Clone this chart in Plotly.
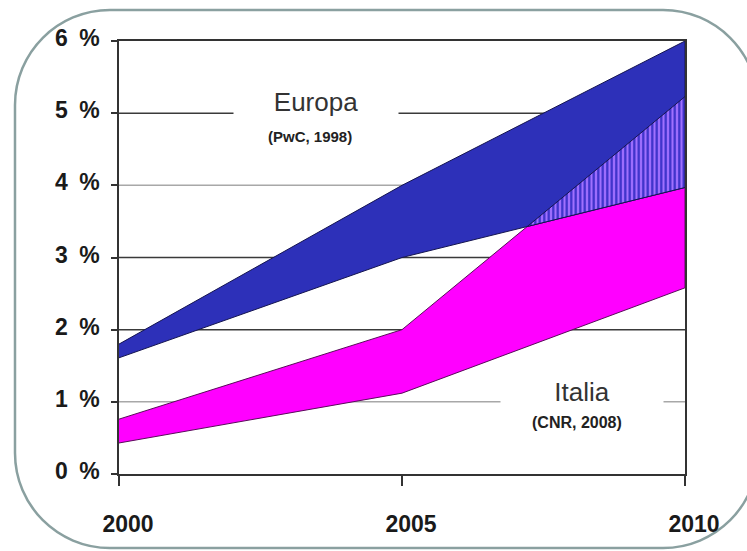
import plotly.graph_objects as go

# ---------------- data ----------------
years = [2000, 2005, 2010]
europa_high = [1.80, 4.00, 6.00]
europa_low = [1.61, 3.00, 3.97]
italia_high = [0.76, 2.00, 5.23]
italia_low = [0.43, 1.12, 2.58]

y_ticks = [0, 1, 2, 3, 4, 5, 6]
y_ticktext = ["0\u2002%", "1\u2002%", "2\u2002%", "3\u2002%", "4\u2002%", "5\u2002%", "6\u2002%"]
x_ticks = [2000, 2005, 2010]
x_ticktext = ["2000", "2005", "2010"]

grid_levels = [1, 2, 3, 4, 5]
grid_colors = ["#a8a8a8", "#3a3a3a", "#3a3a3a", "#a8a8a8", "#3a3a3a"]

# ---------------- layout geometry ----------------
W, H = 747, 551
ML, MR, MT, MB = 119, 62, 41, 77
PW, PH = W - ML - MR, H - MT - MB

def px2paper(px, py):
    return (px - ML) / PW, (H - MB - py) / PH

# crossing of Italia upper and Europa lower between 2005 and 2010
d0 = italia_high[1] - europa_low[1]
d1 = italia_high[2] - europa_low[2]
fr = d0 / (d0 - d1)
xc = years[1] + fr * (years[2] - years[1])
yc = italia_high[1] + fr * (italia_high[2] - italia_high[1])

fig = go.Figure()

# Italia band (magenta)
fig.add_trace(go.Scatter(
    x=years + years[::-1],
    y=italia_high + italia_low[::-1],
    fill="toself", fillcolor="#ff00ff",
    line=dict(color="#5a0a5a", width=1),
    mode="lines", hoverinfo="skip", showlegend=False,
))
# Europa band (blue)
fig.add_trace(go.Scatter(
    x=years + years[::-1],
    y=europa_high + europa_low[::-1],
    fill="toself", fillcolor="#2d30b9",
    line=dict(color="#141450", width=1),
    mode="lines", hoverinfo="skip", showlegend=False,
))
# Overlap (hatched)
fig.add_trace(go.Scatter(
    x=[xc, years[2], years[2], xc],
    y=[yc, italia_high[2], europa_low[2], yc],
    fill="toself", fillcolor="#a070ff",
    fillpattern=dict(shape="|", bgcolor="#a070ff", fgcolor="#3a30c8",
                     size=4.5, solidity=0.5, fillmode="replace"),
    line=dict(color="#141450", width=1),
    mode="lines", hoverinfo="skip", showlegend=False,
))

shapes = []
for lvl, col in zip(grid_levels, grid_colors):
    shapes.append(dict(type="line", xref="paper", yref="y", x0=0, x1=1, y0=lvl, y1=lvl,
                       line=dict(color=col, width=1.5), layer="below"))

# rounded frame
L, T, R, B, r = 15, 10, 758, 548, 95
k = 0.5523 * r
def P(px, py):
    x, y = px2paper(px, py)
    return f"{x:.5f},{y:.5f}"
path = (f"M {P(L + r, T)} L {P(R - r, T)} C {P(R - r + k, T)} {P(R, T + r - k)} {P(R, T + r)} "
        f"L {P(R, B - r)} C {P(R, B - r + k)} {P(R - r + k, B)} {P(R - r, B)} "
        f"L {P(L + r, B)} C {P(L + r - k, B)} {P(L, B - r + k)} {P(L, B - r)} "
        f"L {P(L, T + r)} C {P(L, T + r - k)} {P(L + r - k, T)} {P(L + r, T)} Z")
shapes.append(dict(type="path", path=path, xref="paper", yref="paper",
                   line=dict(color="#8aa0a0", width=2.5), layer="below"))

label_font = dict(family="Liberation Sans, Arial", size=26, color="#333333")
sub_font1 = dict(family="Liberation Sans, Arial", size=15, color="#222222", weight="bold")
sub_font2 = dict(family="Liberation Sans, Arial", size=16, color="#222222", weight="bold")
annotations = [
    dict(x=2003.48, y=5.15, text="Europa", showarrow=False, font=label_font,
         bgcolor="white", width=162, height=36, xanchor="center", yanchor="middle"),
    dict(x=2003.38, y=4.68, text="(PwC, 1998)", showarrow=False, font=sub_font1,
         xanchor="center", yanchor="middle"),
    dict(x=2008.18, y=1.14, text="Italia", showarrow=False, font=label_font,
         bgcolor="white", width=160, height=36, xanchor="center", yanchor="middle"),
    dict(x=2008.09, y=0.71, text="(CNR, 2008)", showarrow=False, font=sub_font2,
         xanchor="center", yanchor="middle"),
]

tick_font = dict(family="Liberation Sans, Arial", size=23, color="#1a1a1a", weight="bold")

fig.update_layout(
    width=W, height=H,
    margin=dict(l=ML, r=MR, t=MT, b=MB, pad=0),
    paper_bgcolor="white", plot_bgcolor="rgba(0,0,0,0)",
    shapes=shapes, annotations=annotations,
    xaxis=dict(range=[2000, 2010], tickvals=x_ticks, ticktext=x_ticktext,
               showgrid=False, zeroline=False, showline=True, linecolor="#333333", linewidth=1.5,
               mirror=True, ticks="outside", ticklen=10, tickcolor="#333333", tickwidth=1.5,
               tickfont=tick_font, ticklabelstandoff=19, ticklabelshift=9),
    yaxis=dict(range=[0, 6], tickvals=y_ticks, ticktext=y_ticktext,
               showgrid=False, zeroline=False, showline=True, linecolor="#333333", linewidth=1.5,
               mirror=True, ticks="outside", ticklen=6, tickcolor="#333333", tickwidth=1.5,
               tickfont=tick_font, ticklabelstandoff=7, ticklabelshift=-3),
)

fig.write_html("out.html")
